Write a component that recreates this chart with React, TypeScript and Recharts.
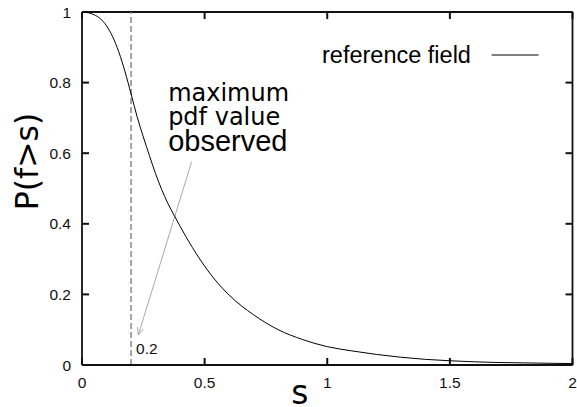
import React from "react";
import { LineChart, Line, XAxis, YAxis, ReferenceLine, Legend } from "recharts";

// s values and P(f>s)
const sValues = [
  0, 0.025, 0.05, 0.075, 0.1, 0.125, 0.15, 0.175, 0.2, 0.225, 0.25, 0.275, 0.3, 0.325, 0.35, 0.375, 0.4, 0.45, 0.5,
  0.55, 0.6, 0.7, 0.8, 0.9, 1.0, 1.1, 1.2, 1.3, 1.4, 1.5, 1.6, 1.7, 1.8, 1.9, 2.0,
];
const pValues = [
  1.0, 0.998, 0.992, 0.981, 0.961, 0.93, 0.887, 0.832, 0.768, 0.703, 0.646, 0.593, 0.542, 0.497, 0.458, 0.425, 0.393,
  0.333, 0.28, 0.235, 0.198, 0.142, 0.1, 0.072, 0.052, 0.04, 0.03, 0.022, 0.016, 0.012, 0.009, 0.007, 0.006, 0.005,
  0.004,
];
const xTicks = [0, 0.5, 1, 1.5, 2];
const yTicks = [0, 0.2, 0.4, 0.6, 0.8, 1];
const maxPdfS = 0.2;
const arrowStart = { x: 0.447, y: 0.576 };
const arrowEnd = { x: 0.2296, y: 0.085 };
const seriesName = "reference field";

const data = sValues.map((s, i) => ({ s, p: pValues[i] }));

const W = 577;
const H = 407;
const LEFT = 82;
const TOP = 12;
const RIGHT = 4.5;
const BOTTOM = 42;
const AXIS = "#111";
const TICK_FONT = "'Liberation Sans', Arial, sans-serif";
// inward tick length, in axis units (about 7px)
const TICK_DX = 0.0285;
const TICK_DY = 0.02;

const XTick = (props: any) => (
  <text x={props.x} y={Number(props.y) + 23} textAnchor="middle" fontSize={15.5} fontFamily={TICK_FONT} fill="#111">
    {props.payload.value}
  </text>
);

const YTick = (props: any) => (
  <text x={Number(props.x) - 11} y={Number(props.y) + 5.5} textAnchor="end" fontSize={15.5} fontFamily={TICK_FONT} fill="#111">
    {props.payload.value}
  </text>
);

const ArrowShape = (props: any) => {
  const { x1, y1, x2, y2 } = props;
  const ang = Math.atan2(y2 - y1, x2 - x1);
  const len = 8;
  const a1 = ang + Math.PI - 0.4;
  const a2 = ang + Math.PI + 0.4;
  return (
    <g>
      <line x1={x1} y1={y1} x2={x2} y2={y2} stroke="#a8a8a8" strokeWidth={1} />
      <polyline
        points={`${x2 + len * Math.cos(a1)},${y2 + len * Math.sin(a1)} ${x2},${y2} ${x2 + len * Math.cos(a2)},${y2 + len * Math.sin(a2)}`}
        fill="none"
        stroke="#a8a8a8"
        strokeWidth={1}
      />
      <text x={x1 - 23.5} y={y1 - 60.7} fontSize={24} fontFamily="'DejaVu Sans', sans-serif" fill="#000">
        maximum
      </text>
      <text x={x1 - 23.5} y={y1 - 36.7} fontSize={24} fontFamily="'DejaVu Sans', sans-serif" fill="#000">
        pdf value
      </text>
      <text x={x1 - 23.5} y={y1 - 10.7} fontSize={29} fontFamily={TICK_FONT} fill="#000">
        observed
      </text>
    </g>
  );
};

const LegendContent = () => (
  <svg width={230} height={30}>
    <text x={4} y={21} fontSize={23.5} fontFamily={TICK_FONT} fill="#000">
      {seriesName}
    </text>
    <line x1={173.5} y1={13} x2={220.5} y2={13} stroke="#000" strokeWidth={1} />
  </svg>
);

export default function App() {
  return (
    <div style={{ position: "absolute", left: 0, top: 0, width: W, height: H, background: "#fff" }}>
      <LineChart width={W} height={H} data={data} margin={{ top: TOP, right: RIGHT, left: 0, bottom: 0 }}>
        <XAxis
          dataKey="s"
          type="number"
          domain={[0, 2]}
          ticks={xTicks}
          height={BOTTOM}
          tickSize={0}
          tickMargin={0}
          tickLine={false}
          axisLine={{ stroke: AXIS, strokeWidth: 1.8 }}
          tick={<XTick />}
          label={(p: any) => {
            const vb = p.viewBox || {};
            return (
              <text x={vb.x + vb.width / 2 - 27.5} y={vb.y + 38.5} textAnchor="middle" fontSize={33} fontFamily="'DejaVu Sans', sans-serif" fill="#000">
                s
              </text>
            );
          }}
        />
        <YAxis
          type="number"
          domain={[0, 1]}
          ticks={yTicks}
          width={LEFT}
          tickSize={0}
          tickMargin={0}
          tickLine={false}
          axisLine={{ stroke: AXIS, strokeWidth: 1.8 }}
          tick={<YTick />}
          label={(p: any) => {
            const vb = p.viewBox || {};
            const cx = vb.x + 37.8;
            const cy = vb.y + 149.5;
            return (
              <text x={cx} y={cy} transform={`rotate(-90, ${cx}, ${cy})`} textAnchor="middle" fontSize={31.5} fontFamily="'DejaVu Sans', sans-serif" fill="#000">
                P(f&gt;s)
              </text>
            );
          }}
        />
        <ReferenceLine y={1} stroke={AXIS} strokeWidth={1.8} ifOverflow="visible" />
        <ReferenceLine x={2} stroke={AXIS} strokeWidth={1.8} ifOverflow="visible" />
        {xTicks.map((t) => (
          <ReferenceLine key={`xb${t}`} segment={[{ x: t, y: 0 }, { x: t, y: TICK_DY }]} stroke={AXIS} strokeWidth={2} ifOverflow="visible" />
        ))}
        {xTicks.map((t) => (
          <ReferenceLine key={`xt${t}`} segment={[{ x: t, y: 1 }, { x: t, y: 1 - TICK_DY }]} stroke={AXIS} strokeWidth={2} ifOverflow="visible" />
        ))}
        {yTicks.map((t) => (
          <ReferenceLine key={`yl${t}`} segment={[{ x: 0, y: t }, { x: TICK_DX, y: t }]} stroke={AXIS} strokeWidth={2} ifOverflow="visible" />
        ))}
        {yTicks.map((t) => (
          <ReferenceLine key={`yr${t}`} segment={[{ x: 2, y: t }, { x: 2 - TICK_DX, y: t }]} stroke={AXIS} strokeWidth={2} ifOverflow="visible" />
        ))}
        <ReferenceLine
          x={maxPdfS}
          stroke="#888"
          strokeWidth={1.5}
          strokeDasharray="6 3"
          label={(p: any) => {
            const vb = p.viewBox || {};
            return (
              <text x={vb.x + 5} y={vb.y + vb.height - 11} fontSize={15.5} fontFamily={TICK_FONT} fill="#111">
                {maxPdfS}
              </text>
            );
          }}
        />
        <ReferenceLine segment={[arrowStart, arrowEnd]} ifOverflow="visible" shape={<ArrowShape />} />
        <Line type="monotone" dataKey="p" name={seriesName} stroke="#000" strokeWidth={1} dot={false} isAnimationActive={false} />
        <Legend
          layout="horizontal"
          verticalAlign="middle"
          align="center"
          content={<LegendContent />}
          wrapperStyle={{ top: 42, left: 318, width: 230 }}
        />
      </LineChart>
    </div>
  );
}
